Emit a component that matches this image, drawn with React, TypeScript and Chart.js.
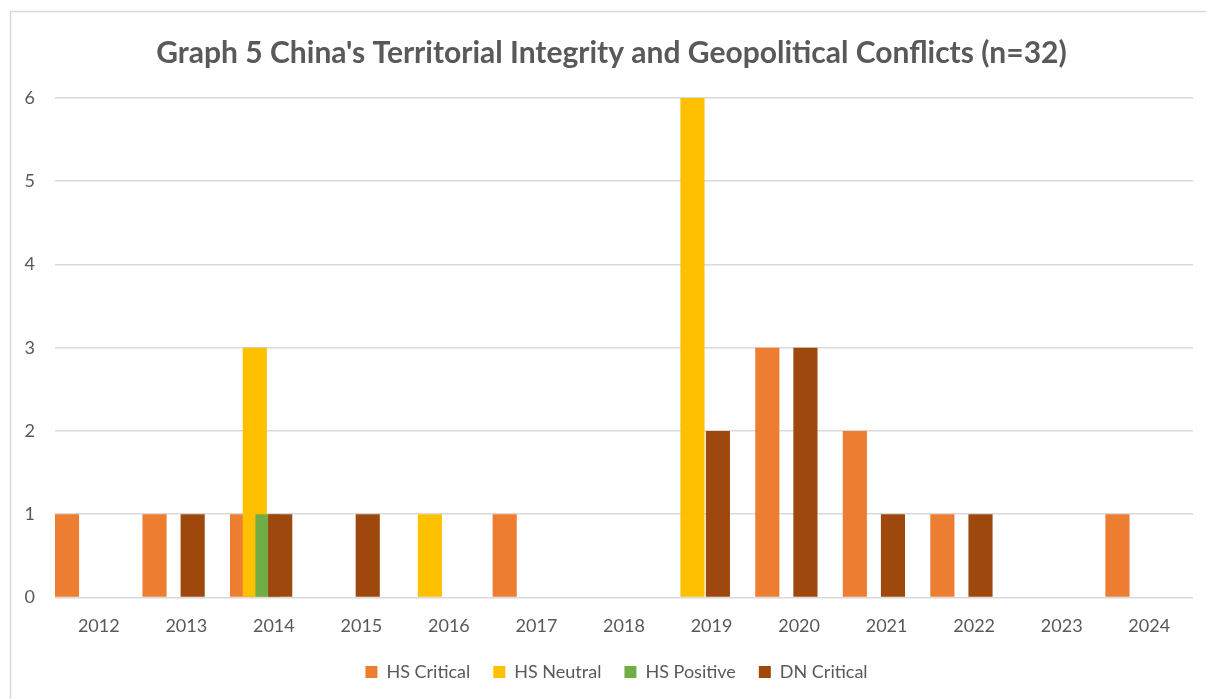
import React, { useEffect, useRef } from "react";
import { Chart, registerables } from "chart.js";

Chart.register(...registerables);

const years = ["2012", "2013", "2014", "2015", "2016", "2017", "2018", "2019", "2020", "2021", "2022", "2023", "2024"];
const hsCritical = [1, 1, 1, 0, 0, 1, 0, 0, 3, 2, 1, 0, 1];
const hsNeutral = [0, 0, 3, 0, 1, 0, 0, 6, 0, 0, 0, 0, 0];
const hsPositive = [0, 0, 1, 0, 0, 0, 0, 0, 0, 0, 0, 0, 0];
const dnCritical = [0, 1, 1, 1, 0, 0, 0, 2, 3, 1, 1, 0, 0];
const yTicks = [0, 1, 2, 3, 4, 5, 6];

const titleText = "Graph 5 China's Territorial Integrity and Geopolitical Conflicts (n=32)";
const TEXT = "#595959";
const FONT = "Lato, 'Open Sans', sans-serif";

const framePlugin = {
  id: "frame",
  beforeDraw(chart: any) {
    const ctx = chart.ctx;
    ctx.save();
    ctx.fillStyle = "#ffffff";
    ctx.fillRect(0, 0, chart.width, chart.height);
    ctx.strokeStyle = "#d9d9d9";
    ctx.lineWidth = 1.5;
    ctx.strokeRect(10.5, 11.5, chart.width + 50, chart.height + 50);
    ctx.restore();
  },
};

// shift legend and title so they are centred like the original
const shiftPlugin = {
  id: "blockShift",
  afterLayout(chart: any) {
    if (chart.legend) {
      chart.legend.left += 20;
      chart.legend.right += 20;
    }
    if (chart.titleBlock) {
      chart.titleBlock.left += 15;
      chart.titleBlock.right += 15;
    }
  },
};

// draw later series on top of earlier ones (as in the original office chart)
const drawOrderPlugin = {
  id: "drawOrder",
  beforeDatasetsDraw(chart: any) {
    const metas = chart.getSortedVisibleDatasetMetas();
    const ctx = chart.ctx;
    const a = chart.chartArea;
    ctx.save();
    ctx.beginPath();
    ctx.rect(a.left, a.top - 2, a.right - a.left, a.bottom - a.top + 2);
    ctx.clip();
    for (const m of metas) m.controller.draw();
    ctx.restore();
    return false;
  },
};

export default function App() {
  const ref = useRef<HTMLCanvasElement | null>(null);
  useEffect(() => {
    document.body.style.margin = "0";
    if (!ref.current) return;
    const spacer = years.map(() => null);
    const chart = new Chart(ref.current, {
      type: "bar",
      data: {
        labels: years,
        datasets: [
          { label: "HS Critical", data: hsCritical, backgroundColor: "#ED7D31" },
          { label: "HS Neutral", data: hsNeutral, backgroundColor: "#FFC000" },
          { label: "HS Positive", data: hsPositive, backgroundColor: "#70AD47" },
          { label: "DN Critical", data: dnCritical, backgroundColor: "#9E480E" },
          { label: "", data: spacer as any, backgroundColor: "rgba(0,0,0,0)" },
          { label: "", data: spacer as any, backgroundColor: "rgba(0,0,0,0)" },
        ],
      },
      options: {
        responsive: false,
        animation: false,
        datasets: {
          bar: { categoryPercentage: 0.871, barPercentage: 1.9, borderWidth: 0 },
        } as any,
        layout: { padding: { left: 0, right: 13, top: 0, bottom: 8 } },
        plugins: {
          tooltip: { enabled: false },
          title: {
            display: true,
            text: titleText,
            color: TEXT,
            font: { family: FONT, size: 30, weight: "bold" },
            padding: { top: 35, bottom: 27 },
          },
          legend: {
            position: "bottom",
            labels: {
              boxWidth: 12,
              boxHeight: 12,
              color: TEXT,
              font: { family: FONT, size: 18 },
              padding: 23,
              filter: (item: any) => item.text !== "",
            },
          },
        },
        scales: {
          x: {
            grid: { display: false },
            border: { display: false },
            ticks: { color: TEXT, font: { family: FONT, size: 18 }, padding: 10 },
            afterFit: (s: any) => {
              s.height = 42.6;
            },
          },
          y: {
            min: 0,
            max: 6,
            afterBuildTicks: (s: any) => {
              s.ticks = yTicks.map((v) => ({ value: v }));
            },
            afterFit: (s: any) => {
              s.width = 55;
            },
            grid: { color: "#d9d9d9", lineWidth: 1.5, drawTicks: false },
            border: { display: false },
            ticks: { color: TEXT, font: { family: FONT, size: 18 }, padding: 20 },
          },
        },
      },
      plugins: [framePlugin, shiftPlugin, drawOrderPlugin],
    });
    return () => chart.destroy();
  }, []);
  return (
    <div style={{ width: 1206, height: 699 }}>
      <canvas ref={ref} width={1206} height={699} />
    </div>
  );
}
